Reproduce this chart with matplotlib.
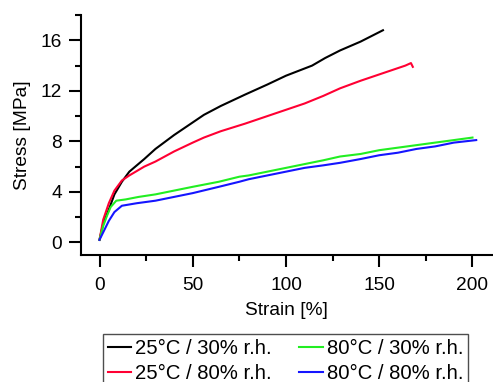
import numpy as np
import matplotlib.pyplot as plt
from matplotlib.ticker import MultipleLocator

plt.rcParams['font.family'] = ['Liberation Sans', 'DejaVu Sans']

# strain [%] / stress [MPa]
strain_25_30 = [0, 2, 5, 8, 12, 16, 20, 24, 30, 40, 50, 56, 65, 78, 90, 100, 114, 121, 129, 140, 148, 152]
stress_25_30 = [0.2, 1.5, 2.6, 3.8, 4.8, 5.6, 6.1, 6.6, 7.4, 8.5, 9.5, 10.1, 10.8, 11.7, 12.5, 13.2, 14.0, 14.6, 15.2, 15.9, 16.5, 16.8]
strain_25_80 = [0, 2, 5, 8, 12, 16, 24, 30, 40, 50, 56, 65, 78, 90, 100, 110, 120, 129, 140, 150, 158, 164, 167, 168]
stress_25_80 = [0.2, 1.8, 3.1, 4.1, 4.9, 5.3, 6.0, 6.4, 7.2, 7.9, 8.3, 8.8, 9.4, 10.0, 10.5, 11.0, 11.6, 12.2, 12.8, 13.3, 13.7, 14.0, 14.2, 13.9]
strain_80_30 = [0, 2, 4, 6, 9, 14, 21, 30, 40, 50, 64, 75, 80, 90, 100, 110, 120, 129, 140, 150, 160, 170, 180, 190, 200]
stress_80_30 = [0.2, 1.3, 2.1, 2.8, 3.3, 3.4, 3.6, 3.8, 4.1, 4.4, 4.8, 5.2, 5.3, 5.6, 5.9, 6.2, 6.5, 6.8, 7.0, 7.3, 7.5, 7.7, 7.9, 8.1, 8.3]
strain_80_80 = [0, 2, 5, 8, 12, 20, 30, 40, 50, 64, 75, 80, 90, 100, 110, 120, 129, 140, 150, 160, 170, 180, 190, 202]
stress_80_80 = [0.2, 0.8, 1.7, 2.4, 2.9, 3.1, 3.3, 3.6, 3.9, 4.4, 4.8, 5.0, 5.3, 5.6, 5.9, 6.1, 6.3, 6.6, 6.9, 7.1, 7.4, 7.6, 7.9, 8.1]

labels = ['25°C / 30% r.h.', '25°C / 80% r.h.', '80°C / 30% r.h.', '80°C / 80% r.h.']
colors = ['black', '#ff0033', '#22ee22', '#1515ff']

fig = plt.figure(figsize=(4.93, 3.82), dpi=100)
ax = fig.add_axes([0.164, 0.3325, 0.836, 0.628])

ax.plot(strain_25_30, stress_25_30, color=colors[0], lw=1.5, label=labels[0])
ax.plot(strain_25_80, stress_25_80, color=colors[1], lw=1.5, label=labels[1])
ax.plot(strain_80_30, stress_80_30, color=colors[2], lw=1.5, label=labels[2])
ax.plot(strain_80_80, stress_80_80, color=colors[3], lw=1.5, label=labels[3])

ax.set_xlim(-10, 211)
ax.set_ylim(-1, 18)
ax.xaxis.set_major_locator(MultipleLocator(50))
ax.xaxis.set_minor_locator(MultipleLocator(25))
ax.yaxis.set_major_locator(MultipleLocator(4))
ax.yaxis.set_minor_locator(MultipleLocator(2))
ax.spines['top'].set_visible(False)
ax.spines['right'].set_visible(False)
for s in ['left', 'bottom']:
    ax.spines[s].set_linewidth(1.5)
ax.tick_params(which='major', direction='out', length=8.5, width=1.5, labelsize=13.8)
ax.tick_params(axis='x', which='major', pad=7)
ax.tick_params(axis='y', which='major', pad=5)
ax.tick_params(which='minor', direction='out', length=4.5, width=1.5)
ax.set_xlabel('Strain [%]', fontsize=13.8, labelpad=6)
ax.set_ylabel('Stress [MPa]', fontsize=13.8, labelpad=7)

# legend order: column 1 = black, red ; column 2 = green, blue
leg = fig.legend(loc='upper left', bbox_to_anchor=(0.209, 0.1257), ncol=2,
                 fontsize=14.6, frameon=True, fancybox=False, edgecolor='#222222',
                 handlelength=1.15, handletextpad=0.2, columnspacing=1.35,
                 labelspacing=0.3, borderpad=0.25, borderaxespad=0)
leg.get_frame().set_linewidth(1.0)

fig.savefig('out.png', dpi=100)
